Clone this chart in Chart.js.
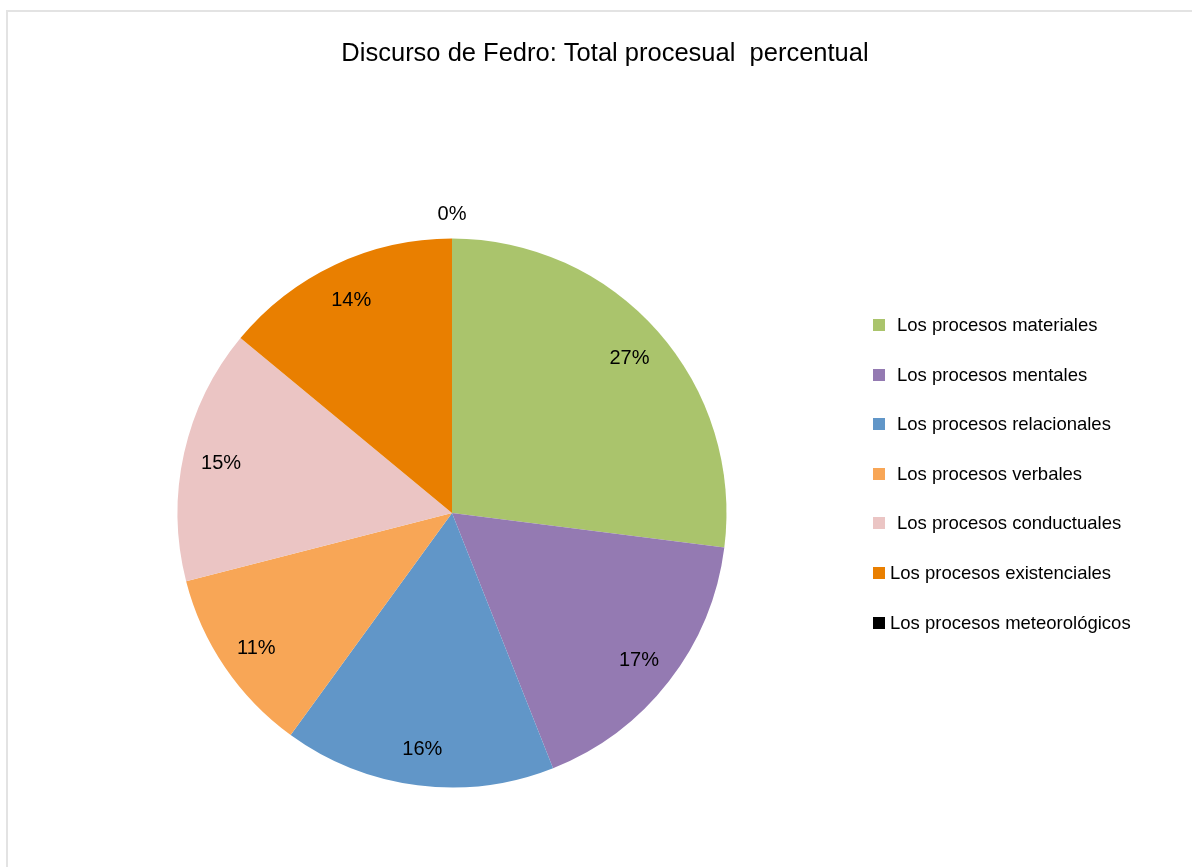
<!DOCTYPE html>
<html>
<head>
<meta charset="utf-8">
<title>Discurso de Fedro</title>
<script src="https://cdn.jsdelivr.net/npm/chart.js@4.4.1/dist/chart.umd.min.js"></script>
<style>
  html, body { margin: 0; padding: 0; background: #fff; overflow: hidden; }
  #frame {
    position: absolute; left: 6px; top: 10px;
    width: 1400px; height: 1000px;
    border: 2px solid #e3e3e3;
  }
  #wrap { position: absolute; left: 0; top: 0; width: 1192px; height: 867px; }
</style>
</head>
<body>
<div id="frame"></div>
<div id="wrap"><canvas id="myChart" width="1192" height="867"></canvas></div>
<script>
// procesos del discurso de Fedro, en porcentaje
const categories = [
  "Los procesos materiales",
  "Los procesos mentales",
  "Los procesos relacionales",
  "Los procesos verbales",
  "Los procesos conductuales",
  "Los procesos existenciales",
  "Los procesos meteorológicos"
];
const percentages = [27, 17, 16, 11, 15, 14, 0];
const sliceColors = ["#aac46c", "#947ab2", "#6196c8", "#f8a656", "#ebc5c4", "#e97f00", "#000000"];
const chartTitle = "Discurso de Fedro: Total procesual  percentual";

const FONT = "'Liberation Sans', Arial, sans-serif";

// title, slice labels and the legend are painted by hand
const paintExtras = {
  id: "paintExtras",
  afterDraw(chart) {
    const ctx = chart.ctx;
    ctx.save();
    ctx.fillStyle = "#000";

    ctx.font = "25.5px " + FONT;
    ctx.textAlign = "center";
    ctx.textBaseline = "middle";
    ctx.fillText(chartTitle, 605, 54);

    // percentage labels inside each slice
    ctx.font = "20px " + FONT;
    const meta = chart.getDatasetMeta(0);
    meta.data.forEach((arc, i) => {
      const p = arc.getProps(["x", "y", "startAngle", "endAngle", "outerRadius"], true);
      const mid = (p.startAngle + p.endAngle) / 2;
      const r = percentages[i] === 0 ? p.outerRadius + 26 : p.outerRadius * 0.862;
      ctx.fillText(percentages[i] + "%", p.x + Math.cos(mid) * r, p.y + Math.sin(mid) * r + 2);
    });

    // legend
    ctx.font = "18.5px " + FONT;
    ctx.textAlign = "left";
    categories.forEach((name, i) => {
      const y = 325 + i * 49.6;
      ctx.fillStyle = sliceColors[i];
      ctx.fillRect(873, Math.round(y) - 6, 12, 12);
      ctx.fillStyle = "#000";
      ctx.fillText(name, i < 5 ? 897 : 890, y + 1);
    });
    ctx.restore();
  }
};

const ctx = document.getElementById("myChart").getContext("2d");
new Chart(ctx, {
  type: "pie",
  data: {
    labels: categories,
    datasets: [{
      data: percentages,
      backgroundColor: sliceColors,
      borderColor: sliceColors.map((c, i) => (percentages[i] === 0 ? "#5a4a1a" : c)),
      borderWidth: percentages.map((v) => (v === 0 ? 1 : 0))
    }]
  },
  options: {
    responsive: false,
    animation: false,
    layout: { padding: { left: 177, right: 465, top: 238, bottom: 79 } },
    plugins: {
      legend: { display: false },
      title: { display: false },
      tooltip: { enabled: false }
    }
  },
  plugins: [paintExtras]
});
</script>
</body>
</html>
